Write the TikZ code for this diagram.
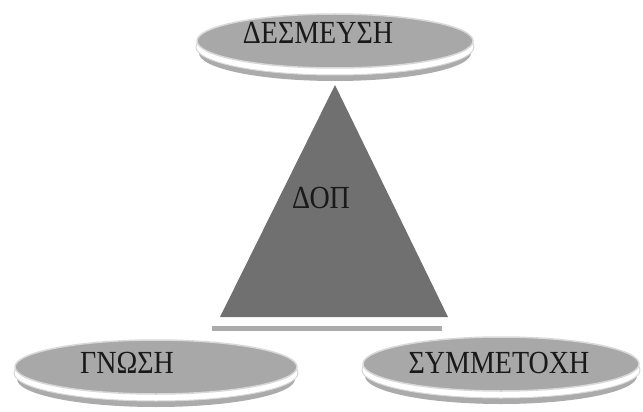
\documentclass[tikz,border=0pt]{standalone}
\usepackage{fontspec}
\setmainfont{Liberation Serif}
\definecolor{discgray}{HTML}{A8A8A8}
\definecolor{trigray}{HTML}{707070}
\definecolor{rimgray}{HTML}{ABABAB}
\definecolor{edgegray}{HTML}{D8D8D8}
\newcommand{\tallt}[1]{\scalebox{1}[1.15]{#1}}
\begin{document}
\begin{tikzpicture}[x=1pt,y=-1pt,
  lbl/.style={font=\fontsize{28}{30}\selectfont, text=black!90, inner sep=0pt},
  disc/.style={fill=discgray, draw=edgegray, line width=1.5pt},
  discwhite/.style={fill=white, draw=edgegray, line width=1pt},
  discshadow/.style={fill=rimgray, draw=none}]
\useasboundingbox (0,0) rectangle (643,412);
% top disc
\fill[discshadow] (335,53) ellipse [x radius=136, y radius=28];
\fill[discwhite] (335,47) ellipse [x radius=139, y radius=28];
\draw[disc] (335,41) ellipse [x radius=138, y radius=27];
% triangle
\fill[rimgray] (212,325) rectangle (442,331);
\fill[white] (212,319) rectangle (444,326);
\fill[trigray] (335,85) -- (448,317) -- (220,317) -- cycle;
% bottom-left disc
\fill[discshadow] (156,379) ellipse [x radius=139, y radius=28];
\fill[discwhite] (156,373) ellipse [x radius=142, y radius=28];
\draw[disc] (156,367) ellipse [x radius=141, y radius=27];
% bottom-right disc
\fill[discshadow] (501,376) ellipse [x radius=136, y radius=28];
\fill[discwhite] (501,370) ellipse [x radius=139, y radius=28];
\draw[disc] (501,364) ellipse [x radius=138, y radius=27];
% labels
\node[lbl] (top) at (318,33) {\tallt{ΔΕΣΜΕΥΣΗ}};
\node[lbl] (mid) at (321,198) {\tallt{ΔΟΠ}};
\node[lbl] (left) at (127,363) {\tallt{ΓΝΩΣΗ}};
\node[lbl] (right) at (499,363) {\tallt{ΣΥΜΜΕΤΟΧΗ}};
\end{tikzpicture}
\end{document}
